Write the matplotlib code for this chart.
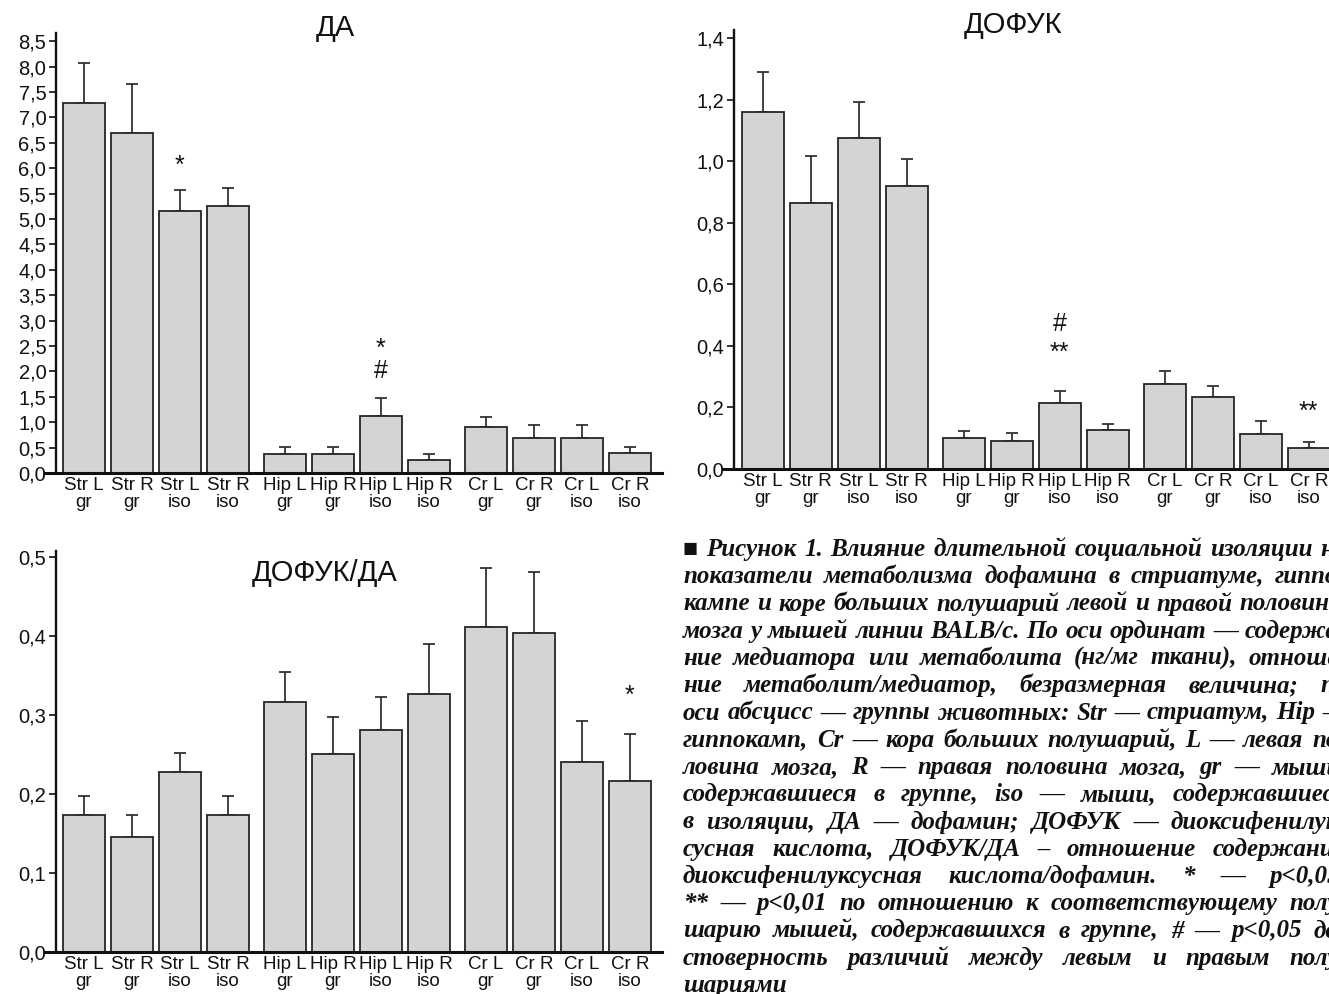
import matplotlib
matplotlib.use('Agg')
import matplotlib.pyplot as plt
import numpy as np

# ---------------- data ----------------
labels = ['Str L\ngr', 'Str R\ngr', 'Str L\niso', 'Str R\niso',
          'Hip L\ngr', 'Hip R\ngr', 'Hip L\niso', 'Hip R\niso',
          'Cr L\ngr', 'Cr R\ngr', 'Cr L\niso', 'Cr R\niso']
groups = [0, 0, 0, 0, 1, 1, 1, 1, 2, 2, 2, 2]

da_mean = [7.29, 6.70, 5.15, 5.25, 0.38, 0.38, 1.12, 0.26, 0.90, 0.68, 0.68, 0.40]
da_err = [0.77, 0.95, 0.42, 0.35, 0.14, 0.14, 0.36, 0.11, 0.20, 0.27, 0.27, 0.12]

dofuk_mean = [1.160, 0.866, 1.076, 0.919, 0.100, 0.091, 0.216, 0.128, 0.277, 0.235, 0.114, 0.067]
dofuk_err = [0.132, 0.152, 0.117, 0.088, 0.022, 0.027, 0.038, 0.019, 0.043, 0.034, 0.043, 0.020]

ratio_mean = [0.174, 0.145, 0.228, 0.174, 0.317, 0.251, 0.281, 0.326, 0.411, 0.404, 0.240, 0.217]
ratio_err = [0.023, 0.029, 0.024, 0.023, 0.037, 0.047, 0.042, 0.064, 0.075, 0.077, 0.052, 0.059]

da_marks = [(2, '*', 6.05), (6, '*', 2.45), (6, '#', 2.0)]
dofuk_marks = [(6, '#', 0.47), (6, '**', 0.379), (11, '**', 0.186)]
ratio_marks = [(11, '*', 0.324)]

da_ticks = [0.0, 0.5, 1.0, 1.5, 2.0, 2.5, 3.0, 3.5, 4.0, 4.5, 5.0, 5.5, 6.0, 6.5, 7.0, 7.5, 8.0, 8.5]
dofuk_ticks = [0.0, 0.2, 0.4, 0.6, 0.8, 1.0, 1.2, 1.4]
ratio_ticks = [0.0, 0.1, 0.2, 0.3, 0.4, 0.5]

caption_lines = [
    "■ Рисунок 1. Влияние длительной социальной изоляции на",
    "показатели метаболизма дофамина в стриатуме, гиппо-",
    "кампе и коре больших полушарий левой и правой половины",
    "мозга у мышей линии BALB/c. По оси ординат — содержа-",
    "ние медиатора или метаболита (нг/мг ткани), отноше-",
    "ние метаболит/медиатор, безразмерная величина; по",
    "оси абсцисс — группы животных: Str — стриатум, Hip —",
    "гиппокамп, Cr — кора больших полушарий, L — левая по-",
    "ловина мозга, R — правая половина мозга, gr — мыши,",
    "содержавшиеся в группе, iso — мыши, содержавшиеся",
    "в изоляции, ДА — дофамин; ДОФУК — диоксифенилук-",
    "сусная кислота, ДОФУК/ДА – отношение содержания",
    "диоксифенилуксусная кислота/дофамин. * — p<0,05,",
    "** — p<0,01 по отношению к соответствующему полу-",
    "шарию мышей, содержавшихся в группе, # — p<0,05 до-",
    "стоверность различий между левым и правым полу-",
    "шариями",
]

# ---------------- style ----------------
W, H = 1329, 994
SANS = ['Liberation Sans', 'DejaVu Sans']
SERIF = ['Liberation Serif', 'DejaVu Serif', 'DejaVu Sans']
plt.rcParams['font.family'] = SANS

BAR_FC = '#d3d4d6'
EDGE = '#262626'
INK = '#111111'

fig = plt.figure(figsize=(W / 100, H / 100), dpi=100)
fig.patch.set_facecolor('white')

xpos = np.arange(len(labels)) + 0.19 * np.array(groups)
BAR_W = 0.875


def fmt(v, nd):
    return f"{v:.{nd}f}".replace('.', ',')


def make_panel(px, mean, err, ticks, nd, ylim, xlim, spine_x, marks, title, title_xy):
    l, r, t, b = px
    ax = fig.add_axes([l / W, 1 - b / H, (r - l) / W, (b - t) / H])
    for s in ['top', 'right']:
        ax.spines[s].set_visible(False)
    ax.spines['left'].set_position(('data', spine_x))
    ax.spines['left'].set_linewidth(1.7)
    ax.spines['bottom'].set_linewidth(2.2)
    ax.spines['left'].set_color(INK)
    ax.spines['bottom'].set_color(INK)
    ax.bar(xpos, mean, width=BAR_W, color=BAR_FC, edgecolor=EDGE, linewidth=1.3, zorder=2)
    ax.errorbar(xpos, mean, yerr=[np.zeros(len(mean)), err], fmt='none',
                ecolor='#333333', elinewidth=1.3, capsize=4, capthick=1.3, zorder=1)
    ax.set_xlim(*xlim)
    ax.set_ylim(*ylim)
    ax.set_yticks(ticks)
    ax.set_yticklabels([fmt(v, nd) for v in ticks])
    ax.set_xticks(xpos)
    ax.set_xticklabels(labels, linespacing=1.0)
    ax.tick_params(axis='x', length=0, pad=3, colors=INK, labelsize=13.5)
    ax.tick_params(axis='y', length=5, width=1.2, direction='out', pad=2,
                   colors=INK, labelsize=14.5)
    ax.set_facecolor('none')
    for idx, txt, yv in marks:
        ax.text(xpos[idx], yv, txt, ha='center', va='center', fontsize=18, color=INK)
    fig.text(title_xy[0] / W, 1 - title_xy[1] / H, title, ha='center', va='center',
             fontsize=21, color=INK)
    return ax


make_panel((45, 662, 33, 473), da_mean, da_err, da_ticks, 1, (0, 8.66),
           (-0.813, 12.05), -0.584, da_marks, 'ДА', (335, 28))
make_panel((723, 1329, 30, 469), dofuk_mean, dofuk_err, dofuk_ticks, 1, (0, 1.427),
           (-0.826, 11.80), -0.596, dofuk_marks, 'ДОФУК', (1013, 25))
make_panel((45, 662, 551, 952), ratio_mean, ratio_err, ratio_ticks, 1, (0, 0.5076),
           (-0.813, 12.05), -0.584, ratio_marks, 'ДОФУК/ДА', (325, 573))

# ---------------- caption (justified) ----------------
fig.canvas.draw()
renderer = fig.canvas.get_renderer()
cap_kw = dict(fontsize=18, fontstyle='italic', fontweight='bold', family=SERIF, color=INK)
X0, X1 = 683, 1347
BASE0, STEP = 556, 27.25


def wwidth(word):
    t = fig.text(0, 0, word, **cap_kw)
    w = t.get_window_extent(renderer).width
    t.remove()
    return w


space_w = wwidth('a a') - wwidth('aa')
for i, line in enumerate(caption_lines):
    words = line.split(' ')
    widths = [wwidth(w) for w in words]
    last = (i == len(caption_lines) - 1)
    if not last and len(words) > 1:
        gap = (X1 - X0 - sum(widths)) / (len(words) - 1)
        gap = max(gap, space_w * 0.6)
    else:
        gap = space_w
    x = X0
    y = BASE0 + i * STEP
    for w, wd in zip(words, widths):
        fig.text(x / W, 1 - y / H, w, ha='left', va='baseline', **cap_kw)
        x += wd + gap

fig.savefig('out.png', dpi=100, facecolor='white')
